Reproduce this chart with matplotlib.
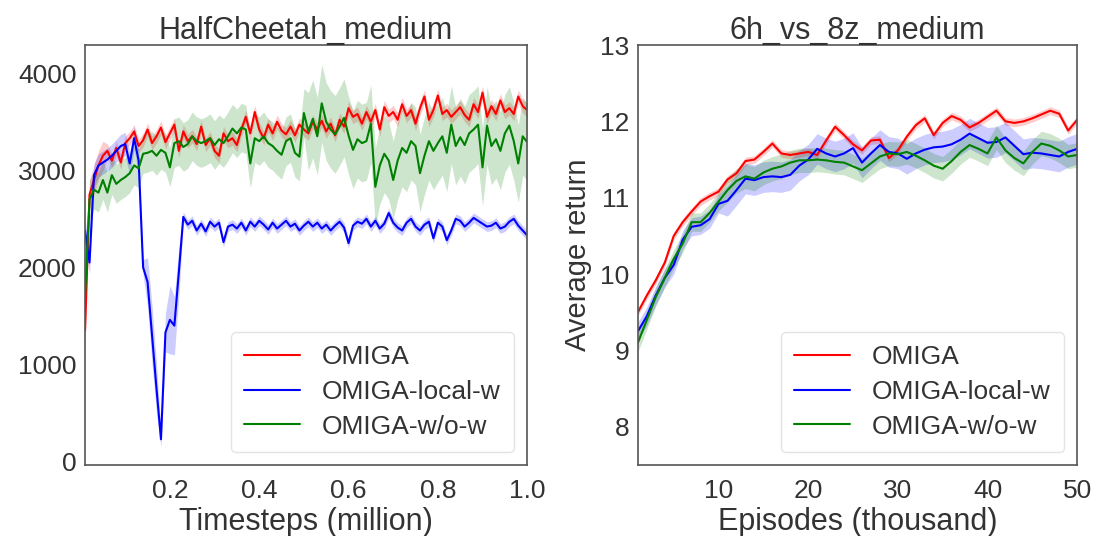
import numpy as np
import matplotlib
matplotlib.use("Agg")
import matplotlib.pyplot as plt
import seaborn as sns

sns.set_style("white")
plt.rcParams['font.family'] = ['Liberation Sans', 'DejaVu Sans']

labels = ["OMIGA", "OMIGA-local-w", "OMIGA-w/o-w"]
colors = ["red", "blue", "green"]

# ---------------- HalfCheetah_medium ----------------
hc_t = np.linspace(0.01, 1.0, 100)
hc_omiga = [1350, 2750, 2900, 3050, 3150, 3200, 3100, 3230, 3080, 3280,
            3330, 3400, 3250, 3310, 3420, 3280, 3350, 3440, 3290, 3380,
            3470, 3200, 3400, 3300, 3350, 3270, 3450, 3260, 3330, 3200,
            3150, 3380, 3300, 3330, 3260, 3420, 3550, 3380, 3600, 3420,
            3330, 3470, 3380, 3500, 3410, 3370, 3450, 3360, 3470, 3420,
            3380, 3500, 3420, 3510, 3400, 3480, 3360, 3520, 3450, 3640,
            3550, 3580, 3480, 3600, 3500, 3620, 3420, 3650, 3560, 3600,
            3520, 3680, 3560, 3620, 3480, 3640, 3760, 3520, 3620, 3770,
            3580, 3620, 3550, 3600, 3650, 3570, 3520, 3680, 3600, 3800,
            3550, 3660, 3580, 3720, 3600, 3640, 3580, 3760, 3660, 3620]
hc_local = [2380, 2050, 2950, 3050, 3080, 3110, 3150, 3200, 3250, 3270,
            3070, 3330, 3100, 2000, 1850, 1300, 750, 230, 1330, 1460,
            1400, 1950, 2520, 2440, 2480, 2380, 2450, 2370, 2470, 2420,
            2460, 2260, 2420, 2440, 2400, 2460, 2380, 2470, 2420, 2480,
            2440, 2390, 2460, 2400, 2440, 2480, 2420, 2450, 2380, 2430,
            2470, 2420, 2460, 2400, 2440, 2380, 2430, 2470, 2410, 2250,
            2430, 2470, 2450, 2500, 2420, 2480, 2400, 2450, 2560, 2460,
            2410, 2380, 2460, 2500, 2420, 2380, 2440, 2470, 2300, 2460,
            2420, 2280, 2380, 2500, 2480, 2420, 2460, 2510, 2480, 2450,
            2420, 2430, 2460, 2400, 2420, 2470, 2500, 2430, 2380, 2330]
hc_wo = [1700, 2700, 2800, 2770, 2900, 2770, 2950, 2860, 2900, 2930,
         2970, 3050, 3020, 3170, 3180, 3200, 3150, 3210, 3180, 3030,
         3280, 3300, 3240, 3270, 3350, 3300, 3280, 3300, 3330, 3260,
         3320, 3280, 3350, 3430, 3380, 3440, 3420, 3070, 3330, 3300,
         3350, 3280, 3250, 3200, 3160, 3300, 3330, 3180, 3140, 3590,
         3400, 3530, 3350, 3690, 3500, 3420, 3370, 3450, 3540, 3360,
         3210, 3320, 3280, 3300, 3480, 2830, 3050, 3170, 3100, 2900,
         3100, 3230, 3180, 3300, 3250, 2970, 3150, 3300, 3200, 3280,
         3350, 3180, 3470, 3250, 3340, 3260, 3380, 3420, 3470, 3030,
         3460, 3250, 3320, 3200, 3380, 3460, 3300, 3070, 3350, 3290]
hc_omiga_sd = [150] * 5 + [70] * 95
hc_local_sd = ([120] * 13 + [80, 250, 300, 250, 80, 200, 350, 300, 250]
               + [50] * 78)
hc_wo_sd = ([200] * 20 + [250] * 30 + [400] * 50)

# ---------------- 6h_vs_8z_medium ----------------
sm_ep = np.arange(1, 51)
sm_omiga = [9.50, 9.72, 9.92, 10.15, 10.50, 10.68, 10.82, 10.95, 11.02, 11.08,
            11.24, 11.32, 11.48, 11.50, 11.60, 11.71, 11.58, 11.56, 11.58, 11.60,
            11.56, 11.75, 11.93, 11.82, 11.70, 11.62, 11.75, 11.76, 11.52, 11.62,
            11.80, 11.95, 12.04, 11.82, 11.98, 12.07, 12.02, 11.92, 11.98, 12.06,
            12.14, 12.00, 11.98, 12.00, 12.04, 12.09, 12.14, 12.10, 11.88, 12.02]
sm_local = [9.25, 9.45, 9.72, 9.95, 10.12, 10.45, 10.62, 10.64, 10.72, 10.92,
            10.96, 11.10, 11.25, 11.23, 11.27, 11.28, 11.27, 11.30, 11.42, 11.50,
            11.64, 11.58, 11.54, 11.58, 11.65, 11.46, 11.58, 11.69, 11.60, 11.58,
            11.51, 11.58, 11.63, 11.66, 11.67, 11.70, 11.76, 11.84, 11.78, 11.72,
            11.73, 11.79, 11.68, 11.57, 11.59, 11.58, 11.56, 11.54, 11.60, 11.64]
sm_wo = [9.10, 9.40, 9.70, 9.95, 10.20, 10.40, 10.68, 10.68, 10.80, 10.95,
         11.10, 11.22, 11.28, 11.25, 11.33, 11.38, 11.41, 11.46, 11.49, 11.49,
         11.50, 11.49, 11.47, 11.46, 11.41, 11.36, 11.45, 11.54, 11.58, 11.57,
         11.60, 11.55, 11.49, 11.42, 11.38, 11.48, 11.60, 11.69, 11.64, 11.58,
         11.79, 11.62, 11.52, 11.45, 11.60, 11.71, 11.68, 11.62, 11.54, 11.56]
sm_omiga_sd = [0.05] * 50
sm_local_sd = [0.12] * 10 + [0.2] * 40
sm_wo_sd = [0.12] * 10 + [0.16] * 40

fig = plt.figure(figsize=(10.96, 5.36), dpi=100)
ax1 = fig.add_axes([0.0776, 0.1325, 0.4034, 0.7835])
ax2 = fig.add_axes([0.582, 0.1325, 0.4008, 0.7835])

def draw(ax, x, series, sds):
    for y, sd, c, lab in zip(series, sds, colors, labels):
        y = np.asarray(y, float)
        sd = np.asarray(sd, float)
        ax.fill_between(x, y - sd, y + sd, color=c, alpha=0.2, lw=0)
        ax.plot(x, y, color=c, lw=1.5, label=lab)

draw(ax1, hc_t, [hc_omiga, hc_local, hc_wo], [hc_omiga_sd, hc_local_sd, hc_wo_sd])
draw(ax2, sm_ep, [sm_omiga, sm_local, sm_wo], [sm_omiga_sd, sm_local_sd, sm_wo_sd])

txt = '#333333'
ax1.set_xlim(0.01, 1.0)
ax1.set_ylim(-35, 4290)
ax1.set_xticks([0.2, 0.4, 0.6, 0.8, 1.0])
ax1.set_yticks([0, 1000, 2000, 3000, 4000])
ax1.set_title("HalfCheetah_medium", fontsize=22, color=txt, pad=4)
ax1.set_xlabel("Timesteps (million)", fontsize=22, color=txt, labelpad=3)

ax2.set_xlim(1, 50)
ax2.set_ylim(7.5, 13)
ax2.set_xticks([10, 20, 30, 40, 50])
ax2.set_yticks([8, 9, 10, 11, 12, 13])
ax2.set_title("6h_vs_8z_medium", fontsize=22, color=txt, pad=4)
ax2.set_xlabel("Episodes (thousand)", fontsize=22, color=txt, labelpad=3)
ax2.set_ylabel("Average return", fontsize=21, color=txt, labelpad=6)

for ax in (ax1, ax2):
    ax.tick_params(labelsize=19, colors=txt, length=0)
    ax.tick_params(axis='x', pad=10)
    ax.tick_params(axis='y', pad=6)
    for s in ax.spines.values():
        s.set_color('#555555')
        s.set_linewidth(1.2)
    leg = ax.legend(loc='lower right', fontsize=19, handlelength=2.1,
                    handletextpad=0.85, borderpad=0.5, labelspacing=0.4,
                    borderaxespad=0.5, frameon=True, fancybox=True)
    leg.get_frame().set_edgecolor('#dddddd')
    for t in leg.get_texts():
        t.set_color(txt)

fig.savefig("out.png", dpi=100)
